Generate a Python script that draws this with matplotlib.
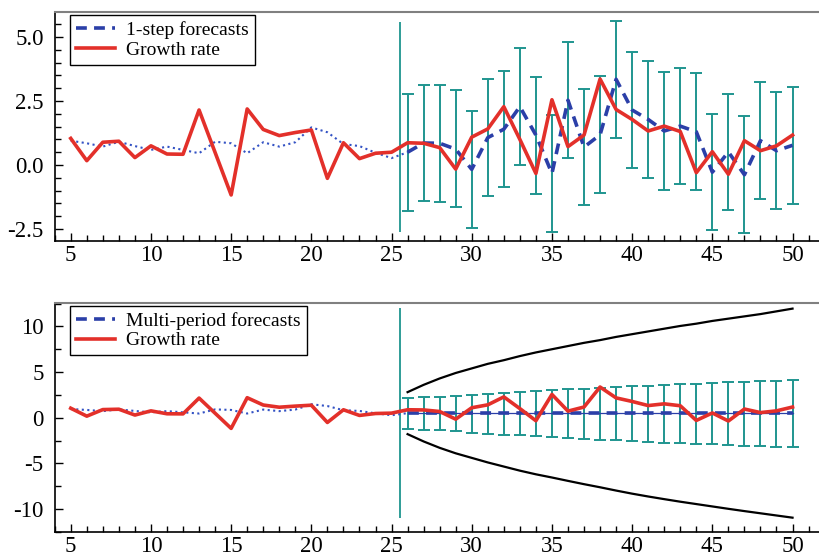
import matplotlib.pyplot as plt
from matplotlib.ticker import MultipleLocator
import numpy as np

plt.rcParams["font.family"] = ["Liberation Serif", "DejaVu Serif"]
plt.rcParams["axes.unicode_minus"] = False

# time index
t_all = list(range(5, 51))
t_fit = list(range(5, 27))
t_fc = list(range(26, 51))

growth = [1.04, 0.17, 0.89, 0.93, 0.29, 0.75, 0.43, 0.42, 2.15, 0.49,
          -1.17, 2.19, 1.39, 1.15, 1.27, 1.37, -0.52, 0.87, 0.25, 0.46,
          0.50, 0.87, 0.85, 0.68, -0.16, 1.09, 1.41, 2.28, 1.00, -0.33,
          2.55, 0.72, 1.17, 3.36, 2.17, 1.78, 1.33, 1.52, 1.31, -0.30,
          0.52, -0.36, 0.95, 0.56, 0.75, 1.17]

# in-sample fitted values (dotted), t = 5..26
fitted = [0.95, 0.85, 0.72, 0.91, 0.74, 0.59, 0.72, 0.59, 0.46, 0.91,
          0.85, 0.46, 0.89, 0.72, 0.89, 1.47, 1.28, 0.82, 0.74, 0.48,
          0.27, 0.50]

# top panel: 1-step forecasts and their bands
step_fc = [0.50, 0.86, 0.85, 0.62, -0.17, 1.07, 1.40, 2.28, 1.17, -0.33,
           2.53, 0.70, 1.18, 3.35, 2.15, 1.78, 1.33, 1.52, 1.30, -0.28,
           0.51, -0.38, 0.95, 0.56, 0.77]
step_hi = [2.77, 3.14, 3.14, 2.94, 2.12, 3.35, 3.68, 4.56, 3.45, 1.95,
           4.80, 2.98, 3.46, 5.62, 4.43, 4.06, 3.62, 3.80, 3.58, 1.99,
           2.79, 1.90, 3.23, 2.84, 3.04]
step_lo = [-1.78, -1.42, -1.43, -1.63, -2.46, -1.21, -0.87, -0.01, -1.12, -2.60,
           0.26, -1.58, -1.09, 1.07, -0.13, -0.50, -0.96, -0.76, -0.99, -2.55,
           -1.77, -2.66, -1.34, -1.72, -1.51]

# bottom panel: multi-period forecasts
multi_fc = [0.48] * 25
multi_hi = [2.19, 2.23, 2.30, 2.41, 2.52, 2.59, 2.70, 2.81, 2.92, 3.03,
            3.10, 3.18, 3.29, 3.36, 3.43, 3.50, 3.58, 3.65, 3.72, 3.80,
            3.87, 3.94, 3.98, 4.05, 4.12]
multi_lo = [-1.20, -1.35, -1.38, -1.49, -1.68, -1.79, -1.86, -1.93, -2.04, -2.11,
            -2.22, -2.33, -2.41, -2.48, -2.55, -2.63, -2.74, -2.81, -2.88, -2.92,
            -2.99, -3.06, -3.10, -3.17, -3.24]
band_hi = [2.80, 3.60, 4.30, 4.90, 5.40, 5.90, 6.30, 6.75, 7.15, 7.50,
           7.85, 8.20, 8.50, 8.85, 9.15, 9.45, 9.75, 10.05, 10.30, 10.60,
           10.85, 11.10, 11.35, 11.65, 11.95]
band_lo = [-1.80, -2.60, -3.30, -3.90, -4.40, -4.90, -5.35, -5.80, -6.20, -6.55,
           -6.92, -7.28, -7.62, -7.98, -8.32, -8.63, -8.92, -9.20, -9.46, -9.72,
           -9.98, -10.23, -10.47, -10.71, -10.95]

forecast_start = 25.5
top_vline = (-2.63, 5.6)
bottom_vline = (-11.0, 12.0)

RED = "#e3302a"
BLUE = "#2b3fa8"
DOT_BLUE = "#3352c4"
TEAL = "#1f958f"


def style_axes(ax, ylim, ymajor, yminor, yfmt):
    ax.set_xlim(4.0, 51.65)
    ax.set_ylim(*ylim)
    ax.xaxis.set_major_locator(MultipleLocator(5))
    ax.xaxis.set_minor_locator(MultipleLocator(1))
    ax.yaxis.set_major_locator(MultipleLocator(ymajor))
    ax.yaxis.set_minor_locator(MultipleLocator(yminor))
    ax.yaxis.set_major_formatter(yfmt)
    ax.tick_params(which="both", direction="in", top=False, right=False,
                   labelsize=16.5, width=1.0)
    ax.tick_params(which="major", length=6)
    ax.tick_params(which="minor", length=4)
    ax.tick_params(axis="x", pad=3)
    ax.tick_params(axis="y", pad=8)
    ax.spines["right"].set_visible(False)
    ax.spines["top"].set_color("#808080")
    ax.spines["top"].set_linewidth(1.5)
    for s in ("left", "bottom"):
        ax.spines[s].set_linewidth(1.2)


def draw_common(ax, fc, lo, hi, vline, label):
    fc = np.array(fc)
    yerr = [fc - np.array(lo), np.array(hi) - fc]
    ax.errorbar(t_fc, fc, yerr=yerr, fmt="none", ecolor=TEAL, elinewidth=1.4,
                capsize=4, capthick=1.4, zorder=2)
    ax.vlines(forecast_start, vline[0], vline[1], color=TEAL, lw=1.3, zorder=2)
    ax.plot(t_fit, fitted, color=DOT_BLUE, lw=1.5, ls=":", zorder=3)
    line_fc, = ax.plot(t_fc, fc, color=BLUE, lw=2.6, ls=(0, (3, 2)), zorder=4,
                       label=label)
    line_gr, = ax.plot(t_all, growth, color=RED, lw=2.6, zorder=5,
                       label="Growth rate")
    leg = ax.legend(handles=[line_fc, line_gr], loc="upper left",
                    bbox_to_anchor=(0.02, 0.985), borderaxespad=0,
                    fancybox=False, edgecolor="black", framealpha=1,
                    fontsize=14, labelspacing=0.1, borderpad=0.3,
                    handlelength=2.0, handletextpad=0.6)
    leg.get_frame().set_linewidth(1.0)


fig = plt.figure(figsize=(8.19, 5.6), dpi=100)
ax1 = fig.add_axes([0.0668, 0.5696, 0.9332, 0.4090])
ax2 = fig.add_axes([0.0668, 0.0495, 0.9332, 0.4100])

draw_common(ax1, step_fc, step_lo, step_hi, top_vline, "1-step forecasts")
style_axes(ax1, (-2.97, 5.98), 2.5, 0.5, "{x:.1f}")

draw_common(ax2, multi_fc, multi_lo, multi_hi, bottom_vline,
            "Multi-period forecasts")
ax2.plot(t_fc, multi_fc, color=BLUE, lw=0.9, zorder=4)
ax2.plot(t_fc, band_hi, color="black", lw=1.6, zorder=3)
ax2.plot(t_fc, band_lo, color="black", lw=1.6, zorder=3)
style_axes(ax2, (-12.55, 12.6), 5, 2.5, "{x:.0f}")

fig.savefig("out.png", dpi=100)
